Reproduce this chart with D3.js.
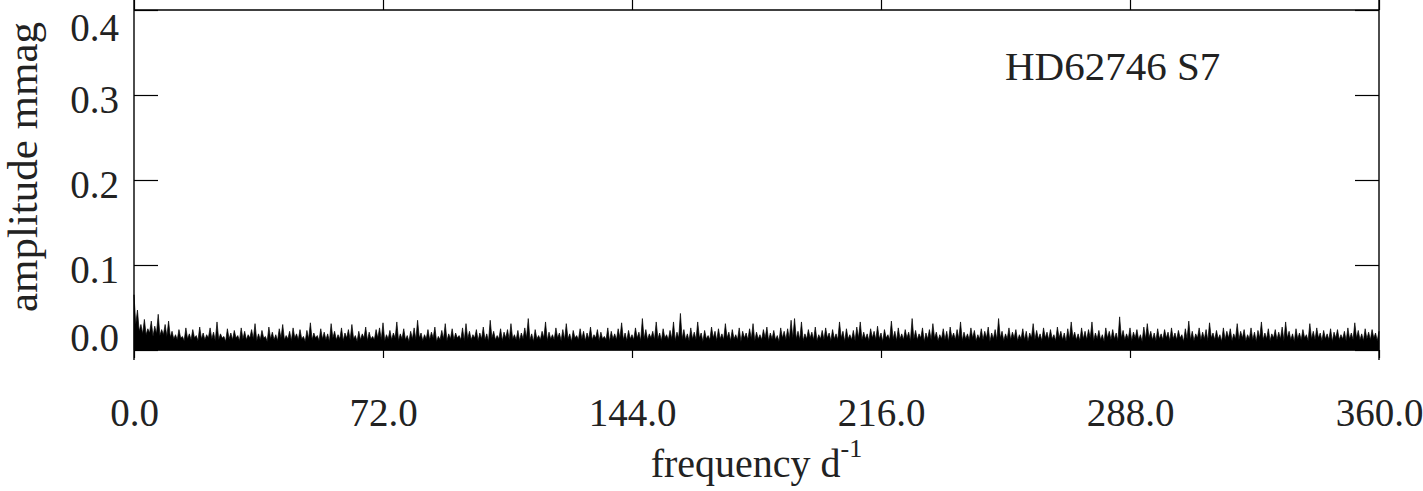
<!DOCTYPE html>
<html><head><meta charset="utf-8">
<script src="https://cdn.jsdelivr.net/npm/d3@7"></script>
<style>
body{margin:0;background:#fff}
svg{display:block}
text{font-family:"Liberation Serif","Times New Roman",serif;fill:#222}
</style>
</head><body>
<svg id="c" width="1423" height="491"></svg>
<script>
const xTicks=[0,72,144,216,288,360];
const yTicks=[0,0.1,0.2,0.3,0.4];
const starLabel="HD62746 S7";
const freqStep=1; // d^-1 between consecutive peak readings
// local peak amplitudes (mmag) read at 0,1,2,...,360 d^-1
const amplitude=[
0.065,0.047,0.030,0.036,0.025,0.034,0.028,0.042,0.024,0.030,
0.034,0.022,0.018,0.024,0.016,0.026,0.019,0.024,0.017,0.027,
0.020,0.018,0.026,0.021,0.033,0.019,0.016,0.025,0.020,0.023,
0.017,0.026,0.022,0.018,0.024,0.031,0.019,0.023,0.016,0.027,
0.021,0.018,0.025,0.030,0.017,0.022,0.026,0.019,0.024,0.016,
0.023,0.032,0.020,0.017,0.025,0.021,0.019,0.031,0.022,0.018,
0.026,0.020,0.024,0.030,0.017,0.022,0.019,0.027,0.021,0.016,
0.024,0.026,0.032,0.018,0.023,0.020,0.033,0.019,0.025,0.017,
0.022,0.026,0.035,0.020,0.018,0.024,0.021,0.027,0.016,0.023,
0.031,0.019,0.025,0.020,0.017,0.026,0.031,0.022,0.018,0.024,
0.020,0.027,0.019,0.035,0.022,0.017,0.025,0.021,0.024,0.031,
0.018,0.023,0.020,0.026,0.037,0.019,0.024,0.017,0.022,0.033,
0.021,0.018,0.026,0.020,0.024,0.031,0.019,0.023,0.017,0.025,
0.022,0.020,0.027,0.018,0.024,0.021,0.016,0.026,0.022,0.019,
0.025,0.032,0.020,0.023,0.018,0.026,0.021,0.037,0.024,0.019,
0.022,0.033,0.020,0.025,0.018,0.023,0.033,0.021,0.043,0.024,
0.019,0.026,0.021,0.033,0.020,0.023,0.017,0.027,0.022,0.025,
0.019,0.031,0.021,0.024,0.018,0.026,0.022,0.020,0.025,0.031,
0.021,0.018,0.024,0.027,0.020,0.023,0.017,0.026,0.022,0.025,
0.035,0.037,0.022,0.033,0.019,0.024,0.021,0.027,0.018,0.023,
0.026,0.020,0.024,0.019,0.033,0.022,0.025,0.018,0.023,0.027,
0.033,0.021,0.019,0.025,0.022,0.028,0.020,0.024,0.018,0.034,
0.022,0.026,0.019,0.024,0.021,0.037,0.023,0.019,0.026,0.020,
0.024,0.031,0.021,0.018,0.025,0.022,0.027,0.020,0.024,0.033,
0.021,0.019,0.026,0.023,0.018,0.025,0.022,0.027,0.020,0.024,
0.037,0.022,0.019,0.026,0.021,0.024,0.018,0.025,0.022,0.020,
0.031,0.023,0.019,0.026,0.021,0.024,0.018,0.027,0.022,0.020,
0.025,0.033,0.021,0.019,0.026,0.022,0.024,0.033,0.020,0.023,
0.018,0.026,0.022,0.024,0.020,0.039,0.023,0.019,0.026,0.021,
0.024,0.018,0.027,0.031,0.022,0.020,0.025,0.019,0.024,0.021,
0.026,0.020,0.023,0.018,0.025,0.034,0.022,0.019,0.026,0.021,
0.024,0.032,0.020,0.023,0.018,0.026,0.022,0.025,0.019,0.031,
0.022,0.024,0.018,0.026,0.021,0.023,0.033,0.020,0.025,0.019,
0.024,0.021,0.027,0.033,0.022,0.019,0.025,0.020,0.024,0.018,
0.031,0.022,0.026,0.020,0.023,0.019,0.025,0.021,0.024,0.018,
0.022,0.026,0.020,0.032,0.023,0.019,0.025,0.021,0.024,0.020,
0.022];
// dips between consecutive peaks, read at 0.5,1.5,...,359.5 d^-1
const troughs=[
0.030,0.022,0.019,0.018,0.020,0.016,0.019,0.017,0.018,0.016,
0.015,0.013,0.012,0.014,0.011,0.013,0.012,0.014,0.011,0.013,
0.012,0.014,0.013,0.011,0.012,0.014,0.010,0.013,0.012,0.014,
0.011,0.013,0.012,0.014,0.013,0.011,0.012,0.014,0.010,0.013,
0.012,0.011,0.014,0.012,0.013,0.011,0.014,0.012,0.013,0.010,
0.013,0.012,0.014,0.011,0.013,0.012,0.010,0.014,0.012,0.013,
0.011,0.014,0.012,0.013,0.010,0.012,0.014,0.011,0.013,0.012,
0.014,0.012,0.011,0.013,0.012,0.014,0.011,0.013,0.012,0.010,
0.013,0.012,0.014,0.011,0.013,0.012,0.014,0.010,0.012,0.013,
0.011,0.013,0.012,0.014,0.012,0.011,0.013,0.012,0.014,0.011,
0.013,0.012,0.010,0.014,0.012,0.013,0.011,0.014,0.012,0.013,
0.012,0.011,0.013,0.014,0.012,0.010,0.013,0.012,0.014,0.011,
0.013,0.012,0.014,0.011,0.012,0.013,0.010,0.014,0.012,0.013,
0.011,0.013,0.012,0.014,0.011,0.013,0.012,0.010,0.013,0.012,
0.014,0.012,0.011,0.013,0.012,0.014,0.011,0.013,0.012,0.014,
0.012,0.013,0.011,0.014,0.012,0.013,0.011,0.014,0.013,0.012,
0.011,0.013,0.012,0.014,0.010,0.013,0.012,0.014,0.011,0.013,
0.012,0.014,0.011,0.013,0.012,0.010,0.014,0.012,0.013,0.011,
0.013,0.012,0.014,0.011,0.013,0.012,0.010,0.014,0.012,0.013,
0.014,0.013,0.012,0.011,0.013,0.014,0.012,0.011,0.013,0.012,
0.014,0.011,0.013,0.012,0.014,0.010,0.013,0.012,0.011,0.014,
0.012,0.013,0.011,0.014,0.012,0.013,0.010,0.014,0.012,0.013,
0.011,0.013,0.012,0.014,0.011,0.013,0.012,0.014,0.010,0.013,
0.012,0.014,0.011,0.013,0.012,0.010,0.014,0.012,0.013,0.011,
0.013,0.012,0.014,0.011,0.013,0.012,0.014,0.010,0.013,0.012,
0.014,0.011,0.013,0.012,0.014,0.011,0.013,0.012,0.010,0.014,
0.012,0.013,0.011,0.014,0.012,0.013,0.011,0.014,0.012,0.010,
0.013,0.014,0.012,0.011,0.013,0.012,0.014,0.011,0.013,0.012,
0.010,0.014,0.012,0.013,0.011,0.014,0.012,0.013,0.011,0.014,
0.012,0.010,0.013,0.014,0.012,0.011,0.013,0.012,0.014,0.011,
0.013,0.012,0.014,0.010,0.013,0.012,0.011,0.014,0.012,0.013,
0.011,0.014,0.012,0.013,0.010,0.012,0.014,0.011,0.013,0.012,
0.014,0.011,0.013,0.012,0.010,0.014,0.012,0.013,0.011,0.014,
0.012,0.013,0.011,0.014,0.012,0.010,0.013,0.012,0.014,0.011,
0.013,0.012,0.014,0.011,0.013,0.012,0.010,0.014,0.012,0.013,
0.011,0.013,0.012,0.014,0.012,0.011,0.013,0.012,0.014,0.011];

// merge peaks and dips in frequency order
const spectrum=[];
amplitude.forEach((a,i)=>{
  spectrum.push({f:i*freqStep,a:a});
  if(i<troughs.length) spectrum.push({f:(i+0.5)*freqStep,a:troughs[i]});
});

const svg=d3.select("#c");
const x=d3.scaleLinear().domain([0,360]).range([134,1379]);
const y=d3.scaleLinear().domain([0,0.4]).range([350,10]);
const FS=39;

// spectrum
const area=d3.area().x(d=>x(d.f)).y0(y(0)).y1(d=>y(d.a));
svg.append("path").datum(spectrum).attr("d",area)
  .attr("fill","#000").attr("stroke","#000").attr("stroke-width",0.7).attr("stroke-linejoin","miter");

// frame
const fr=svg.append("g").attr("stroke","#000").attr("stroke-width",1.4);
fr.append("line").attr("x1",x(0)).attr("x2",x(0)).attr("y1",0).attr("y2",360);
fr.append("line").attr("x1",x(360)).attr("x2",x(360)).attr("y1",0).attr("y2",360);
fr.append("line").attr("x1",x(0)).attr("x2",x(360)).attr("y1",y(0.4)).attr("y2",y(0.4));
fr.append("line").attr("x1",x(0)).attr("x2",x(360)).attr("y1",y(0)).attr("y2",y(0));

function clean(g){g.select(".domain").remove();g.selectAll(".tick line").attr("stroke","#000").attr("stroke-width",1.2);}

// bottom axis
const gb=svg.append("g").attr("transform",`translate(0,${y(0)})`)
  .call(d3.axisBottom(x).tickValues(xTicks).tickSize(8).tickSizeOuter(0).tickFormat(d3.format(".1f")));
clean(gb);
gb.selectAll(".tick text").attr("y",76).attr("dy",null).attr("font-size",FS).attr("fill","#222");

// top ticks
const gt=svg.append("g").attr("transform",`translate(0,${y(0.4)})`)
  .call(d3.axisTop(x).tickValues(xTicks).tickSize(10).tickSizeOuter(0).tickFormat(""));
clean(gt);

// left axis
const gl=svg.append("g").attr("transform",`translate(${x(0)},0)`)
  .call(d3.axisLeft(y).tickValues(yTicks).tickSize(-24).tickSizeOuter(0).tickPadding(15).tickFormat(d3.format(".1f")));
clean(gl);
gl.selectAll(".tick text").attr("dy",null).attr("font-size",FS).attr("fill","#222")
  .attr("y",d=>d===0?0:(d===0.4?30:17));

// right ticks
const gr=svg.append("g").attr("transform",`translate(${x(360)},0)`)
  .call(d3.axisRight(y).tickValues(yTicks).tickSize(-24).tickSizeOuter(0).tickFormat(""));
clean(gr);

// titles
const xt=svg.append("text").attr("x",(x(0)+x(360))/2).attr("y",477).attr("text-anchor","middle").attr("font-size",FS+1);
xt.append("tspan").text("frequency d");
xt.append("tspan").attr("dy",-20).attr("font-size",26).text("-1");

svg.append("text").attr("transform","translate(37,167) rotate(-90)").attr("text-anchor","middle").attr("font-size",FS+4).text("amplitude mmag");

svg.append("text").attr("x",1005).attr("y",80).attr("font-size",FS+2).text(starLabel);
</script>
</body></html>
